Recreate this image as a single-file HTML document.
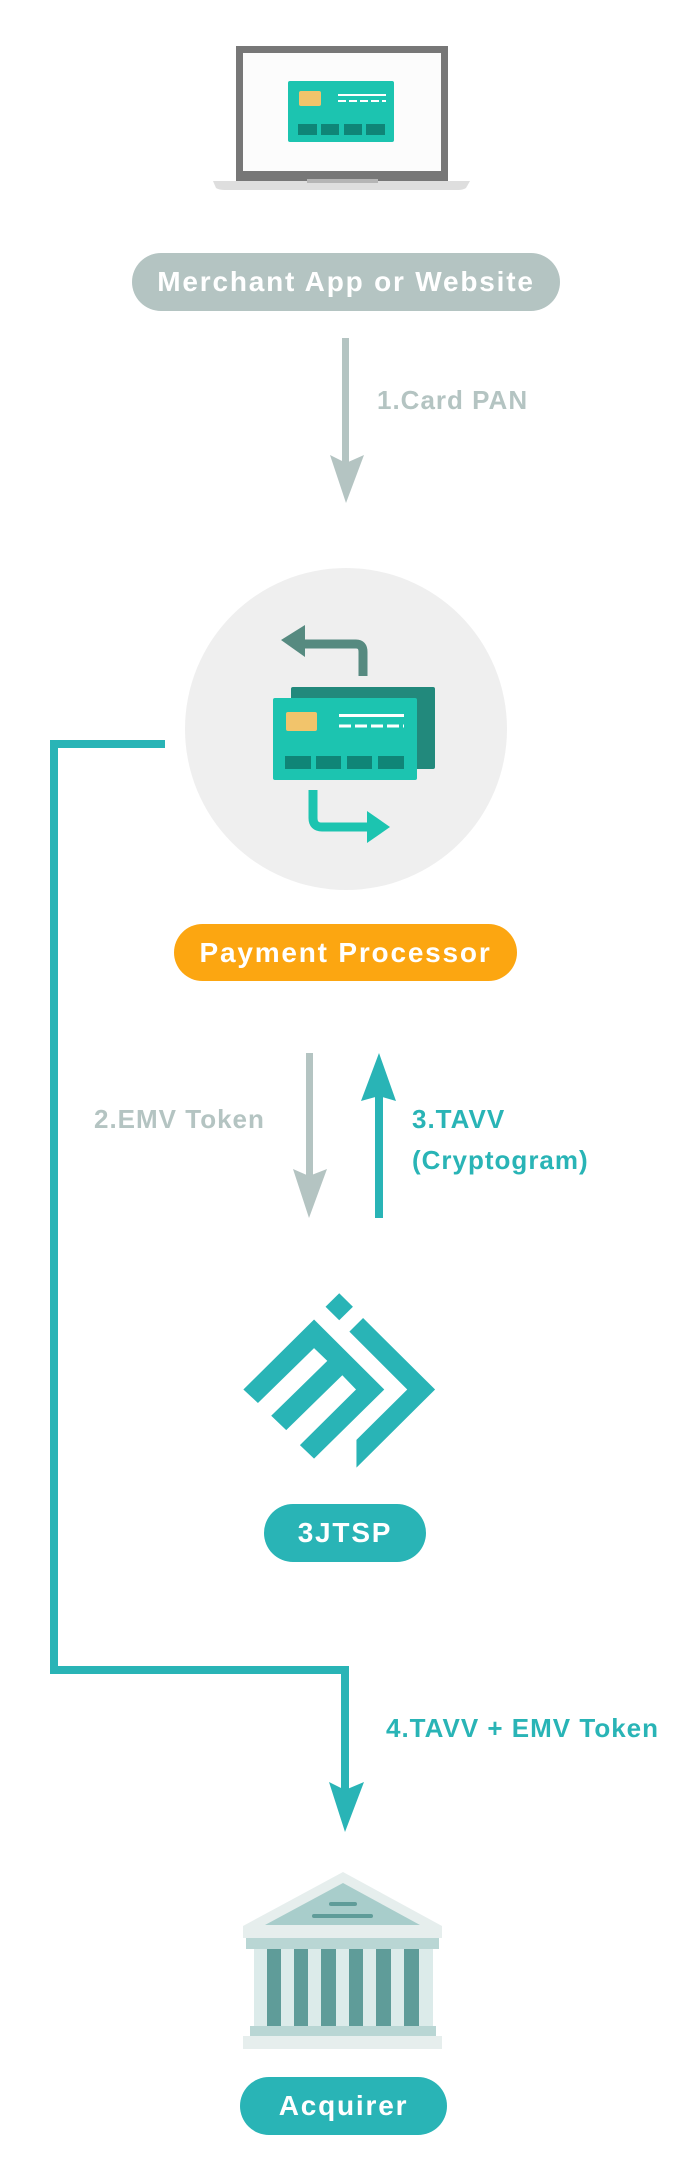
<!DOCTYPE html>
<html><head><meta charset="utf-8"><style>
html,body{margin:0;padding:0;background:#fff;}
body{width:689px;height:2173px;position:relative;overflow:hidden;font-family:"Liberation Sans",sans-serif;font-weight:bold;}
.pill{position:absolute;color:#fff;display:flex;align-items:center;justify-content:center;font-size:28px;letter-spacing:1.8px;white-space:nowrap;}
.lbl{position:absolute;font-size:26px;line-height:29px;white-space:nowrap;letter-spacing:1px;}
</style></head><body>
<svg width="689" height="2173" style="position:absolute;left:0;top:0">
<path d="M213 181 L470 181 L466 188 Q463 190 458 190 L225 190 Q219 190 216 188 Z" fill="#dedede"/>
<rect x="236" y="46" width="212" height="135" fill="#777"/>
<rect x="243" y="53" width="198" height="118" fill="#fcfcfc"/>
<rect x="307" y="179" width="71" height="4" fill="#b5b5b5"/>
<rect x="288" y="81" width="106" height="61" rx="2" fill="#1cc4b0"/>
<rect x="299" y="91" width="22" height="15" rx="2" fill="#f2c46b"/>
<rect x="298" y="124" width="19" height="11" fill="#0f8577"/><rect x="321" y="124" width="18" height="11" fill="#0f8577"/><rect x="344" y="124" width="18" height="11" fill="#0f8577"/><rect x="366" y="124" width="19" height="11" fill="#0f8577"/>
<rect x="338" y="94" width="48" height="2" fill="#fff"/><line x1="338" y1="101" x2="386" y2="101" stroke="#fff" stroke-width="2" stroke-dasharray="8 3"/>
<rect x="342" y="338" width="7" height="125" fill="#b4c4c2"/>
<polygon points="330,455 346,463 364,455 346,503" fill="#b4c4c2"/>
<circle cx="346" cy="729" r="161" fill="#efefef"/>
<rect x="291" y="687" width="144" height="82" rx="2" fill="#22897c"/>
<rect x="273" y="698" width="144" height="82" rx="2" fill="#1cc4b0"/>
<rect x="286" y="712" width="31" height="19" rx="2" fill="#f2c46b"/>
<rect x="285" y="756" width="26" height="13" fill="#0f8577"/><rect x="316" y="756" width="25" height="13" fill="#0f8577"/><rect x="347" y="756" width="25" height="13" fill="#0f8577"/><rect x="378" y="756" width="26" height="13" fill="#0f8577"/>
<rect x="339" y="714" width="65" height="3" fill="#fff"/><line x1="339" y1="726" x2="404" y2="726" stroke="#fff" stroke-width="3" stroke-dasharray="12 4"/>
<path d="M300 644 L356 644 Q363 644 363 652 L363 676" fill="none" stroke="#568a80" stroke-width="9"/>
<polygon points="281,640 305,625 305,657" fill="#568a80"/>
<path d="M313 790 L313 818 Q313 827 322 827 L370 827" fill="none" stroke="#1cc4b0" stroke-width="9"/>
<polygon points="367,811 390,827 367,843" fill="#1cc4b0"/>
<path d="M165 744 L54 744 L54 1670 L345 1670 L345 1790" fill="none" stroke="#29b4b6" stroke-width="8"/>
<polygon points="329,1782 345,1790 364,1782 345,1832" fill="#29b4b6"/>
<rect x="306" y="1053" width="7" height="125" fill="#b4c4c2"/>
<polygon points="293,1169 309,1176 327,1169 309,1218" fill="#b4c4c2"/>
<rect x="375" y="1095" width="8" height="123" fill="#29b4b6"/>
<polygon points="379,1053 396,1101 379,1096 361,1101" fill="#29b4b6"/>
<g transform="translate(0,1000) scale(0.4417,0.7519)" fill="#29b4b6">
<polygon points="737,408 768,390 799,408 768,426"/>
<polygon points="551,518 711,425 870,518 711,610 679,592 806,518 775,499 648,572 614,553 741,480 711,463 584,536"/>
<polygon points="791,441 822,423 985,518 807,622 807,585 922,518"/>
</g>
<polygon points="243,1926 343,1872 442,1926" fill="#e6eeed"/>
<polygon points="265,1925 343,1883 420,1925" fill="#a8cdcb"/>
<rect x="329" y="1902" width="28" height="4" rx="2" fill="#5f9c99"/>
<rect x="312" y="1914" width="61" height="4" rx="2" fill="#5f9c99"/>
<rect x="243" y="1926" width="199" height="12" fill="#e6eeed"/>
<rect x="246" y="1938" width="193" height="11" fill="#b9d6d4"/>
<rect x="254" y="1949" width="179" height="77" fill="#5f9c99"/>
<g fill="#dcebea">
<rect x="254" y="1949" width="13" height="77"/><rect x="281" y="1949" width="13" height="77"/><rect x="308" y="1949" width="13" height="77"/><rect x="336" y="1949" width="13" height="77"/><rect x="363" y="1949" width="13" height="77"/><rect x="391" y="1949" width="13" height="77"/><rect x="419" y="1949" width="14" height="77"/>
</g>
<rect x="250" y="2026" width="186" height="10" fill="#b9d6d4"/>
<rect x="243" y="2036" width="199" height="13" fill="#e6eeed"/>
</svg>
<div class="pill" style="left:132px;top:253px;width:428px;height:58px;border-radius:29px;background:#b4c4c2;">Merchant App or Website</div>
<div class="lbl" style="left:377px;top:386px;color:#b4c4c2;">1.Card PAN</div>
<div class="pill" style="left:174px;top:924px;width:343px;height:57px;border-radius:29px;background:#fca611;">Payment Processor</div>
<div class="lbl" style="left:94px;top:1105px;color:#b4c4c2;">2.EMV Token</div>
<div class="lbl" style="left:412px;top:1105px;color:#29b4b6;line-height:41px;margin-top:-6px;">3.TAVV<br>(Cryptogram)</div>
<div class="pill" style="left:264px;top:1504px;width:162px;height:58px;border-radius:29px;background:#29b4b6;">3JTSP</div>
<div class="lbl" style="left:386px;top:1714px;color:#29b4b6;">4.TAVV + EMV Token</div>
<div class="pill" style="left:240px;top:2077px;width:207px;height:58px;border-radius:29px;background:#29b4b6;">Acquirer</div>
</body></html>
